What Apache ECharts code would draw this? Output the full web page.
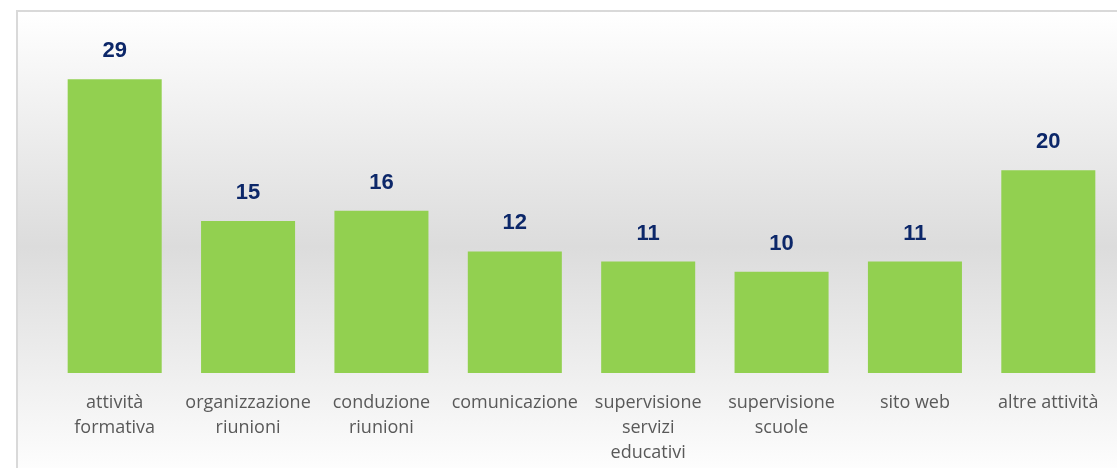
<!DOCTYPE html>
<html>
<head>
<meta charset="utf-8">
<script src="https://cdn.jsdelivr.net/npm/echarts@6/dist/echarts.min.js"></script>
<style>
  html, body { margin: 0; padding: 0; background: #fff; overflow: hidden; }
  #frame {
    position: absolute; left: 16px; top: 10px; width: 1120px; height: 470px;
    border: 2px solid #d9d9d9;
    background: linear-gradient(to bottom, #ffffff 0%, #dcdcdc 50%, #ffffff 100%);
  }
  #main { position: absolute; left: 0; top: 0; width: 1117px; height: 468px; }
</style>
</head>
<body>
<div id="frame"></div>
<div id="main"></div>
<script>
let categories = ['attività\nformativa', 'organizzazione\nriunioni', 'conduzione\nriunioni', 'comunicazione',
    'supervisione\nservizi\neducativi', 'supervisione\nscuole', 'sito web', 'altre attività']
let values = [29, 15, 16, 12, 11, 10, 11, 20]

var chart = echarts.init(document.getElementById('main'))
var option = {
    backgroundColor: 'transparent',
    animation: false,
    grid: { left: 48, right: 2, top: 69, bottom: 95 },
    xAxis: {
        type: 'category',
        data: categories,
        axisLine: { show: false },
        axisTick: { show: false },
        axisLabel: {
            interval: 0,
            margin: 17,
            color: '#595959',
            fontSize: 18,
            lineHeight: 25,
            fontFamily: 'Open Sans'
        }
    },
    yAxis: {
        type: 'value',
        min: 0,
        max: 30,
        show: false
    },
    series: [{
        type: 'bar',
        data: values,
        barWidth: '70.5%',
        itemStyle: { color: '#92D050' },
        label: {
            show: true,
            position: 'top',
            distance: 17,
            color: '#0C2769',
            fontSize: 22,
            fontWeight: 'bold',
            fontFamily: 'Liberation Sans'
        }
    }]
}
chart.setOption(option)
</script>
</body>
</html>
